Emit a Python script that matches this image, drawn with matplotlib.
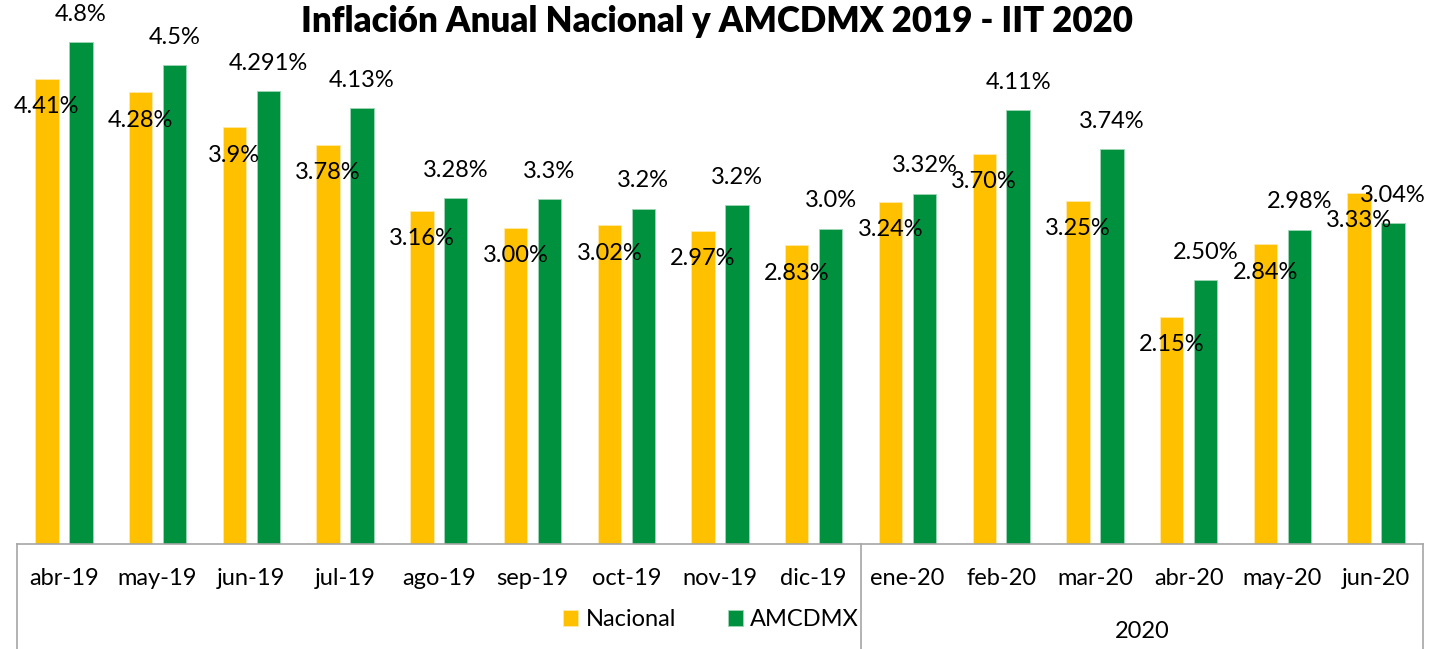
import matplotlib.pyplot as plt
import numpy as np

meses = ['abr-19', 'may-19', 'jun-19', 'jul-19', 'ago-19', 'sep-19', 'oct-19', 'nov-19',
         'dic-19', 'ene-20', 'feb-20', 'mar-20', 'abr-20', 'may-20', 'jun-20']

nacional = [4.41, 4.28, 3.95, 3.78, 3.16, 3.00, 3.02, 2.97, 2.83, 3.24, 3.70, 3.25, 2.15, 2.84, 3.33]
amcdmx = [4.76, 4.54, 4.291, 4.13, 3.28, 3.27, 3.18, 3.21, 2.99, 3.32, 4.11, 3.74, 2.50, 2.98, 3.04]

# etiquetas tal como aparecen
etq_nacional = ['4.41%', '4.28%', '3.9%', '3.78%', '3.16%', '3.00%', '3.02%', '2.97%', '2.83%',
                '3.24%', '3.70%', '3.25%', '2.15%', '2.84%', '3.33%']
etq_amcdmx = ['4.8%', '4.5%', '4.291%', '4.13%', '3.28%', '3.3%', '3.2%', '3.2%', '3.0%',
              '3.32%', '4.11%', '3.74%', '2.50%', '2.98%', '3.04%']

amarillo = '#FFC000'
verde = '#00913F'
gris = '#A6A6A6'

plt.rcParams['font.family'] = ['Lato', 'DejaVu Sans']

fig = plt.figure(figsize=(14.34, 6.49), dpi=100)
ax = fig.add_axes([17 / 1434, 105 / 649, 1406 / 1434, 544 / 649])

x = np.arange(len(meses))
ancho = 0.249
desp = 0.181

b1 = ax.bar(x - desp, nacional, ancho, color=amarillo, edgecolor='#FFE9A8', linewidth=0.6, label='Nacional')
b2 = ax.bar(x + desp, amcdmx, ancho, color=verde, edgecolor='#9FD6B5', linewidth=0.6, label='AMCDMX')

for rect, t in zip(b1, etq_nacional):
    ax.annotate(t, (rect.get_x() + rect.get_width() / 2, rect.get_height()),
                xytext=(0, -20), textcoords='offset points', ha='center', va='center', fontsize=17)
for rect, t in zip(b2, etq_amcdmx):
    ax.annotate(t, (rect.get_x() + rect.get_width() / 2, rect.get_height()),
                xytext=(0, 20), textcoords='offset points', ha='center', va='center', fontsize=17)

ax.set_xlim(-0.5, len(meses) - 0.5)
ax.set_ylim(0, 544 / 105.5)
ax.set_yticks([])
ax.set_xticks(x)
ax.set_xticklabels(meses, fontsize=17)
ax.tick_params(axis='x', length=0, pad=17)

for s in ['top', 'left', 'right']:
    ax.spines[s].set_visible(False)
ax.spines['bottom'].set_color(gris)
ax.spines['bottom'].set_linewidth(1.2)

# separadores del eje por anio
for xv in [-0.5, 8.5, len(meses) - 0.5]:
    ax.plot([xv, xv], [0, -0.2], transform=ax.get_xaxis_transform(), color=gris,
            linewidth=1.2, clip_on=False)

ax.text(11.5, -88 / 544, '2020', transform=ax.get_xaxis_transform(), ha='center', va='center',
        fontsize=17)

fig.legend(handles=[b1, b2], labels=['Nacional', 'AMCDMX'], loc='center',
           bbox_to_anchor=(711 / 1434, 29 / 649), ncol=2, frameon=False, fontsize=17,
           handlelength=0.65, handleheight=0.65, handletextpad=0.3, columnspacing=2.2)

fig.text(0.5, 1 - 21 / 649, 'Inflación Anual Nacional y AMCDMX 2019 - IIT 2020',
         ha='center', va='center', fontsize=25, fontweight='heavy')

fig.savefig('out.png', dpi=100)
